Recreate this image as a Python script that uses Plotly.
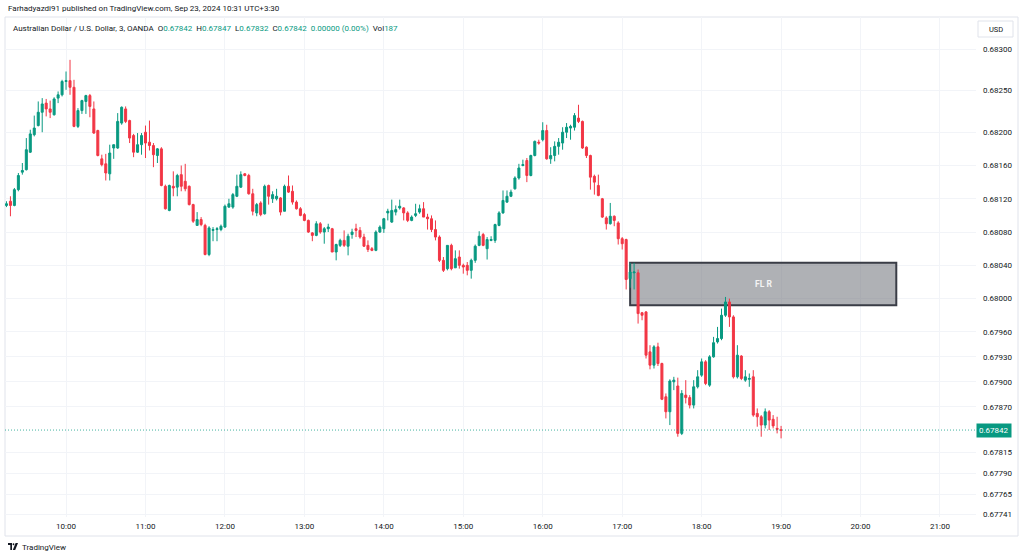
import pandas as pd
import plotly.graph_objects as go

# ---------------- data (prices in 1e-5 units) ----------------
opens = [68112, 68117, 68112, 68131, 68152, 68155, 68176, 68197, 68208, 68224,
         68235, 68228, 68221, 68241, 68245, 68261, 68262, 68254, 68207, 68226,
         68237, 68244, 68228, 68202, 68168, 68162, 68150, 68181, 68181, 68211,
         68228, 68214, 68196, 68176, 68185, 68200, 68188, 68184, 68172, 68180,
         68135, 68106, 68135, 68134, 68149, 68141, 68135, 68113, 68088, 68095,
         68088, 68053, 68082, 68083, 68083, 68086, 68110, 68110, 68123, 68134,
         68150, 68148, 68126, 68103, 68115, 68102, 68136, 68120, 68120, 68121,
         68105, 68135, 68129, 68116, 68108, 68101, 68094, 68079, 68076, 68090,
         68080, 68084, 68084, 68056, 68064, 68070, 68063, 68077, 68084, 68082,
         68074, 68064, 68060, 68058, 68080, 68084, 68103, 68092, 68104, 68109,
         68109, 68103, 68094, 68100, 68104, 68108, 68098, 68096, 68083, 68074,
         68046, 68036, 68064, 68037, 68050, 68040, 68040, 68034, 68046, 68064,
         68077, 68060, 68070, 68070, 68088, 68103, 68116, 68123, 68132, 68145,
         68160, 68166, 68148, 68172, 68188, 68191, 68202, 68168, 68172, 68183,
         68187, 68200, 68205, 68206, 68217, 68213, 68182, 68172, 68147, 68136,
         68120, 68097, 68090, 68099, 68091, 68072, 68071, 68024, 68031, 68031,
         67983, 67984, 67936, 67920, 67942, 67922, 67882, 67864, 67900, 67895,
         67838, 67884, 67881, 67872, 67894, 67908, 67924, 67896, 67930, 67948,
         67952, 67980, 67996, 67978, 67906, 67931, 67902, 67903, 67906, 67862,
         67858, 67848, 67864, 67855, 67844, 67842]
highs = [68117, 68123, 68133, 68151, 68163, 68193, 68203, 68220, 68237, 68241,
         68240, 68238, 68242, 68249, 68263, 68273, 68287, 68263, 68229, 68239,
         68245, 68246, 68237, 68203, 68173, 68174, 68185, 68185, 68223, 68231,
         68231, 68215, 68198, 68199, 68199, 68208, 68214, 68187, 68181, 68182,
         68137, 68137, 68153, 68150, 68160, 68162, 68136, 68114, 68104, 68098,
         68090, 68087, 68086, 68086, 68089, 68113, 68120, 68127, 68149, 68153,
         68151, 68150, 68132, 68115, 68117, 68137, 68137, 68129, 68132, 68122,
         68137, 68148, 68136, 68118, 68110, 68103, 68095, 68080, 68093, 68092,
         68086, 68090, 68085, 68066, 68072, 68082, 68078, 68084, 68090, 68086,
         68078, 68070, 68062, 68082, 68088, 68097, 68108, 68119, 68112, 68119,
         68110, 68105, 68100, 68114, 68113, 68116, 68102, 68100, 68094, 68076,
         68050, 68064, 68066, 68058, 68058, 68042, 68044, 68048, 68065, 68081,
         68079, 68074, 68075, 68090, 68105, 68130, 68130, 68131, 68147, 68162,
         68167, 68169, 68173, 68190, 68191, 68212, 68209, 68182, 68189, 68193,
         68206, 68211, 68209, 68223, 68233, 68214, 68183, 68173, 68149, 68149,
         68121, 68099, 68115, 68100, 68093, 68074, 68072, 68043, 68043, 68035,
         67984, 67985, 67944, 67944, 67947, 67923, 67886, 67903, 67906, 67905,
         67890, 67902, 67884, 67902, 67914, 67928, 67926, 67932, 67954, 67966,
         67988, 68002, 68000, 67980, 67944, 67932, 67914, 67910, 67914, 67868,
         67860, 67868, 67866, 67860, 67858, 67847]
lows = [68110, 68099, 68111, 68129, 68149, 68154, 68175, 68195, 68207, 68200,
        68219, 68217, 68220, 68235, 68243, 68251, 68245, 68206, 68205, 68222,
        68222, 68218, 68198, 68171, 68159, 68142, 68142, 68168, 68180, 68209,
        68211, 68187, 68170, 68175, 68173, 68169, 68178, 68158, 68163, 68135,
        68107, 68105, 68123, 68123, 68129, 68129, 68112, 68091, 68088, 68087,
        68052, 68051, 68069, 68069, 68081, 68085, 68109, 68108, 68122, 68133,
        68147, 68125, 68100, 68099, 68099, 68101, 68113, 68115, 68118, 68100,
        68105, 68127, 68113, 68107, 68099, 68093, 68079, 68069, 68075, 68078,
        68066, 68080, 68056, 68046, 68062, 68062, 68052, 68072, 68074, 68072,
        68062, 68056, 68057, 68057, 68079, 68079, 68094, 68091, 68100, 68107,
        68094, 68092, 68093, 68098, 68102, 68098, 68083, 68080, 68070, 68044,
        68032, 68034, 68034, 68037, 68036, 68030, 68028, 68024, 68043, 68063,
        68063, 68047, 68069, 68067, 68087, 68102, 68115, 68122, 68131, 68143,
        68159, 68140, 68147, 68171, 68185, 68189, 68167, 68162, 68165, 68173,
        68179, 68193, 68191, 68202, 68211, 68180, 68169, 68131, 68125, 68123,
        68097, 68083, 68089, 68087, 68065, 68059, 68011, 68013, 68011, 67970,
        67974, 67928, 67915, 67916, 67919, 67878, 67856, 67848, 67890, 67834,
        67836, 67874, 67868, 67868, 67892, 67906, 67896, 67894, 67929, 67946,
        67950, 67978, 67966, 67904, 67904, 67902, 67900, 67894, 67858, 67846,
        67834, 67844, 67842, 67844, 67838, 67832]
closes = [68114, 68112, 68131, 68148, 68154, 68179, 68198, 68205, 68224, 68234,
          68228, 68224, 68240, 68245, 68261, 68262, 68254, 68207, 68226, 68238,
          68244, 68231, 68199, 68172, 68161, 68151, 68175, 68185, 68213, 68230,
          68213, 68193, 68176, 68185, 68196, 68187, 68184, 68173, 68180, 68136,
          68108, 68136, 68133, 68148, 68135, 68132, 68113, 68093, 68095, 68089,
          68053, 68085, 68083, 68084, 68087, 68111, 68114, 68125, 68135, 68149,
          68148, 68126, 68105, 68113, 68101, 68135, 68123, 68125, 68123, 68104,
          68135, 68128, 68116, 68108, 68100, 68094, 68080, 68076, 68090, 68080,
          68084, 68086, 68056, 68065, 68070, 68064, 68075, 68080, 68082, 68074,
          68063, 68059, 68058, 68080, 68086, 68096, 68105, 68106, 68107, 68111,
          68103, 68094, 68098, 68102, 68108, 68098, 68096, 68083, 68074, 68046,
          68034, 68064, 68036, 68048, 68040, 68038, 68034, 68046, 68063, 68075,
          68064, 68071, 68071, 68089, 68103, 68118, 68123, 68128, 68145, 68157,
          68161, 68148, 68172, 68189, 68187, 68202, 68168, 68172, 68183, 68188,
          68200, 68206, 68207, 68220, 68213, 68181, 68172, 68146, 68140, 68124,
          68098, 68090, 68099, 68094, 68072, 68066, 68023, 68032, 68032, 67982,
          67980, 67932, 67920, 67942, 67922, 67879, 67864, 67901, 67902, 67838,
          67886, 67881, 67872, 67894, 67906, 67924, 67898, 67930, 67947, 67952,
          67980, 67996, 67978, 67906, 67932, 67904, 67906, 67904, 67860, 67858,
          67848, 67864, 67854, 67847, 67843, 67842]
first_bar = "2024-09-23 09:15"
bar_minutes = 3
volume_last = 187

price_ticks = [0.67741, 0.67765, 0.67790, 0.67815, 0.67870, 0.67900, 0.67930,
               0.67960, 0.68000, 0.68040, 0.68080, 0.68120, 0.68160, 0.68200,
               0.68250, 0.68300]
zone_start, zone_end = "2024-09-23 17:06", "2024-09-23 20:27"
zone_low, zone_high = 0.67992, 0.68043
zone_label = "FL R"

header = "Farhadyazdi91 published on TradingView.com, Sep 23, 2024 10:31 UTC+3:30"
symbol_title = "Australian Dollar / U.S. Dollar, 3, OANDA"

# ---------------- styling ----------------
UP, DN = "#089981", "#F23645"
GRID = "#f2f4f8"
TXT = "#131722"
FONT = "Roboto, Noto Sans, sans-serif"
W, H = 1024, 559
L, R, T, B = 5, 48, 17, 42
PW, PH = W - L - R, H - T - B


def px_x(px):
    return (px - L) / PW


def px_y(py):
    return (H - B - py) / PH


times = pd.date_range(first_bar, periods=len(closes), freq=f"{bar_minutes}min")
o = [v / 1e5 for v in opens]
h = [v / 1e5 for v in highs]
lo = [v / 1e5 for v in lows]
c = [v / 1e5 for v in closes]
last = c[-1]

fig = go.Figure()
fig.add_trace(go.Candlestick(
    x=times, open=o, high=h, low=lo, close=c,
    increasing=dict(line=dict(color=UP, width=1), fillcolor=UP),
    decreasing=dict(line=dict(color=DN, width=1), fillcolor=DN),
    whiskerwidth=0, hoverinfo="skip", showlegend=False,
))

shapes = [
    # supply/demand zone
    dict(type="rect", xref="x", yref="y", x0=zone_start, x1=zone_end,
         y0=zone_low, y1=zone_high, fillcolor="rgba(118,120,128,0.58)",
         line=dict(color="#3a3d46", width=2), layer="between"),
    # last price dotted line
    dict(type="line", xref="paper", yref="y", x0=0, x1=1, y0=last, y1=last,
         line=dict(color="rgba(8,153,129,0.75)", width=1, dash="1px,2px")),
    # outer frame
    dict(type="rect", xref="paper", yref="paper", x0=px_x(5), x1=px_x(1018),
         y0=px_y(536), y1=px_y(17), line=dict(color="#e0e3eb", width=1),
         fillcolor="rgba(0,0,0,0)", layer="below"),
    # USD box
    dict(type="rect", xref="paper", yref="paper", x0=px_x(978), x1=px_x(1013),
         y0=px_y(37), y1=px_y(21), line=dict(color="#e0e3eb", width=1),
         fillcolor="white"),
    # TradingView logo pieces
    dict(type="path", xref="paper", yref="paper",
         path=(f"M {px_x(8)},{px_y(543)} L {px_x(12)},{px_y(543)} L {px_x(12)},{px_y(550)} "
               f"L {px_x(10.3)},{px_y(550)} L {px_x(10.3)},{px_y(545)} L {px_x(8)},{px_y(545)} Z"),
         fillcolor=TXT, line=dict(width=0)),
    dict(type="circle", xref="paper", yref="paper", x0=px_x(12.6), x1=px_x(14.4),
         y0=px_y(545.2), y1=px_y(543.2), fillcolor=TXT, line=dict(width=0)),
    dict(type="path", xref="paper", yref="paper",
         path=(f"M {px_x(15.6)},{px_y(543)} L {px_x(18)},{px_y(543)} L {px_x(15.2)},{px_y(550)} "
               f"L {px_x(12.8)},{px_y(550)} Z"),
         fillcolor=TXT, line=dict(width=0)),
]

g = lambda s: f'<span style="color:{UP}">{s}</span>'
chg = c[-1] - o[-1]
legend_text = (f"{symbol_title}\u00a0 O{g(f'{o[-1]:.5f}')}\u00a0 H{g(f'{h[-1]:.5f}')}"
               f"\u00a0 L{g(f'{lo[-1]:.5f}')}\u00a0 C{g(f'{c[-1]:.5f}')}"
               f"\u00a0 {g(f'{chg:.5f} ({chg / o[-1] * 100:.2f}%)')}\u00a0 Vol{g(volume_last)}")

zone_mid = pd.Timestamp(zone_start) + (pd.Timestamp(zone_end) - pd.Timestamp(zone_start)) / 2

annotations = [
    dict(text=header, xref="paper", yref="paper", x=px_x(6), y=px_y(9),
         xanchor="left", yanchor="middle", showarrow=False,
         font=dict(size=8, color=TXT, family=FONT)),
    dict(text=legend_text, xref="paper", yref="paper", x=px_x(11), y=px_y(28),
         xanchor="left", yanchor="middle", showarrow=False,
         font=dict(size=8, color=TXT, family=FONT)),
    dict(text="USD", xref="paper", yref="paper", x=px_x(995.5), y=px_y(29),
         xanchor="center", yanchor="middle", showarrow=False,
         font=dict(size=7.5, color=TXT, family=FONT)),
    dict(text=f"<b>{zone_label}</b>", xref="x", yref="y", x=zone_mid,
         y=(zone_low + zone_high) / 2, showarrow=False,
         font=dict(size=8.5, color="#f4f4f4", family=FONT)),
    dict(text=f"{last:.5f}", xref="paper", yref="y", x=1.0, y=last,
         xanchor="left", yanchor="middle", showarrow=False, bgcolor=UP,
         borderpad=2, font=dict(size=8, color="white", family=FONT)),
    dict(text="TradingView", xref="paper", yref="paper", x=px_x(19.5), y=px_y(547),
         xanchor="left", yanchor="middle", showarrow=False,
         font=dict(size=8, color=TXT, family=FONT)),
]

fig.update_layout(
    width=W, height=H, margin=dict(l=L, r=R, t=T, b=B),
    paper_bgcolor="white", plot_bgcolor="white",
    font=dict(family=FONT, size=8, color=TXT),
    shapes=shapes, annotations=annotations, showlegend=False,
    boxgap=0.28,
    xaxis=dict(type="date", range=["2024-09-23 09:13:54", "2024-09-23 21:27:12"],
               tick0="2024-09-23 10:00", dtick=3600000, tickformat="%H:%M",
               showgrid=True, gridcolor=GRID, gridwidth=1, zeroline=False,
               showline=False, ticks="", tickfont=dict(size=8, color=TXT),
               ticklabelstandoff=3, rangeslider=dict(visible=False), fixedrange=True),
    yaxis=dict(side="right", range=[0.677375, 0.683385], tickvals=price_ticks,
               ticktext=[f"{v:.5f}" for v in price_ticks], showgrid=True,
               gridcolor=GRID, gridwidth=1, zeroline=False, showline=False,
               ticks="", tickfont=dict(size=8, color=TXT), ticklabelstandoff=6,
               fixedrange=True),
)

fig.write_html(
    "out.html",
    config={"displayModeBar": False},
    post_script="document.body.style.margin='0';document.body.style.overflow='hidden';",
)
